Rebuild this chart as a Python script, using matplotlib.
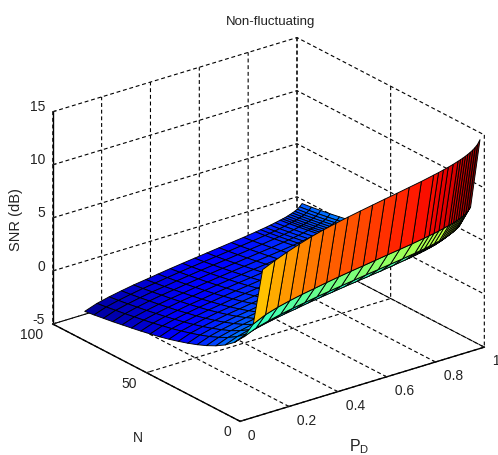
import matplotlib
matplotlib.use('Agg')
import numpy as np
import matplotlib.pyplot as plt
from matplotlib import colormaps
from matplotlib.colors import Normalize

plt.rcParams['font.family'] = ['Liberation Sans', 'DejaVu Sans']
plt.rcParams['mathtext.fontset'] = 'custom'
plt.rcParams['mathtext.rm'] = 'Liberation Sans'
plt.rcParams['mathtext.it'] = 'Liberation Sans'
plt.rcParams['grid.color'] = 'k'
plt.rcParams['grid.linestyle'] = (0, (3.5, 2.5))
plt.rcParams['grid.linewidth'] = 0.8

pd_values = [.10,.15,.20,.25,.30,.35,.40,.45,.50,.55,.60,.65,.70,.75,.80,.82,.84,.86,.88,.90,.91,.92,.93,.94,.95,.96,.97,.98,.99]
n_values = [1,6,11,16,21,26,31,36,41,46,51,56,61,66,71,76,81,86,91,96]
snr_values = [
[8.50,9.00,9.45,9.85,10.21,10.51,10.77,11.01,11.23,11.44,11.65,11.85,12.06,12.27,12.51,12.61,12.72,12.84,12.97,13.12,13.20,13.28,13.38,13.49,13.61,13.75,13.93,14.16,14.53],
[2.92,3.45,3.80,4.08,4.32,4.52,4.73,4.92,5.10,5.26,5.43,5.60,5.76,5.93,6.12,6.21,6.28,6.38,6.49,6.61,6.68,6.73,6.81,6.90,7.00,7.11,7.25,7.44,7.74],
[1.25,1.74,2.05,2.32,2.55,2.74,2.94,3.11,3.28,3.44,3.60,3.75,3.91,4.07,4.24,4.32,4.40,4.49,4.59,4.70,4.76,4.82,4.90,4.98,5.08,5.18,5.32,5.48,5.77],
[.27,.73,1.04,1.28,1.50,1.68,1.88,2.05,2.21,2.37,2.52,2.67,2.82,2.98,3.16,3.23,3.31,3.40,3.49,3.60,3.66,3.72,3.80,3.88,3.96,4.07,4.19,4.36,4.63],
[-.43,.01,.31,.56,.78,.95,1.14,1.31,1.47,1.62,1.77,1.92,2.07,2.22,2.39,2.46,2.54,2.63,2.72,2.83,2.89,2.95,3.02,3.10,3.18,3.29,3.41,3.58,3.84],
[-.97,-.53,-.24,0,.21,.39,.57,.74,.90,1.05,1.20,1.34,1.49,1.64,1.81,1.88,1.96,2.04,2.13,2.24,2.30,2.35,2.42,2.50,2.59,2.68,2.80,2.97,3.23],
[-1.41,-.98,-.70,-.46,-.25,-.07,.11,.28,.43,.58,.73,.87,1.01,1.16,1.33,1.40,1.48,1.56,1.65,1.76,1.81,1.87,1.94,2.02,2.10,2.20,2.33,2.49,2.75],
[-1.78,-1.36,-1.07,-.84,-.63,-.46,-.28,-.11,.04,.19,.34,.48,.62,.77,.93,1.00,1.08,1.16,1.25,1.36,1.42,1.47,1.54,1.62,1.70,1.80,1.92,2.08,2.34],
[-2.10,-1.68,-1.40,-1.17,-.96,-.79,-.61,-.44,-.29,-.15,0,.14,.28,.43,.59,.66,.74,.82,.91,1.01,1.07,1.13,1.19,1.27,1.35,1.45,1.57,1.73,1.99],
[-2.38,-1.96,-1.69,-1.46,-1.25,-1.08,-.90,-.74,-.59,-.44,-.30,-.16,-.02,.13,.29,.36,.44,.52,.61,.71,.77,.82,.89,.97,1.05,1.14,1.27,1.43,1.68],
[-2.64,-2.22,-1.95,-1.72,-1.51,-1.35,-1.17,-1.01,-.86,-.71,-.57,-.43,-.29,-.14,.02,.09,.17,.25,.34,.44,.50,.55,.62,.70,.78,.87,1.00,1.15,1.41],
[-2.87,-2.45,-2.18,-1.95,-1.75,-1.58,-1.40,-1.24,-1.09,-.95,-.81,-.67,-.53,-.38,-.22,-.15,-.08,.01,.09,.20,.25,.31,.37,.45,.53,.62,.75,.90,1.16],
[-3.06,-2.65,-2.38,-2.15,-1.95,-1.79,-1.61,-1.45,-1.30,-1.16,-1.01,-.88,-.73,-.59,-.43,-.36,-.29,-.21,-.12,-.02,.04,.09,.16,.24,.32,.41,.53,.69,.94],
[-3.25,-2.85,-2.58,-2.35,-2.15,-1.99,-1.81,-1.65,-1.50,-1.36,-1.22,-1.08,-.94,-.80,-.63,-.56,-.49,-.41,-.32,-.22,-.17,-.11,-.04,.03,.11,.21,.33,.48,.73],
[-3.42,-3.02,-2.75,-2.52,-2.32,-2.16,-1.98,-1.82,-1.67,-1.53,-1.39,-1.25,-1.11,-.97,-.81,-.74,-.67,-.59,-.50,-.40,-.34,-.29,-.22,-.15,-.07,.03,.15,.30,.55],
[-3.58,-3.18,-2.92,-2.69,-2.49,-2.33,-2.15,-1.99,-1.84,-1.70,-1.56,-1.42,-1.28,-1.14,-.98,-.91,-.84,-.76,-.67,-.57,-.51,-.46,-.39,-.32,-.24,-.14,-.02,.13,.38],
[-3.74,-3.34,-3.07,-2.84,-2.64,-2.48,-2.31,-2.15,-2.00,-1.86,-1.72,-1.58,-1.44,-1.30,-1.14,-1.07,-1.00,-.92,-.83,-.73,-.68,-.63,-.56,-.48,-.40,-.31,-.19,-.03,.21],
[-3.88,-3.48,-3.22,-2.99,-2.79,-2.63,-2.46,-2.30,-2.15,-2.01,-1.87,-1.73,-1.59,-1.45,-1.29,-1.22,-1.15,-1.07,-.98,-.88,-.83,-.78,-.71,-.63,-.55,-.46,-.34,-.18,.06],
[-4.02,-3.62,-3.35,-3.13,-2.93,-2.77,-2.60,-2.44,-2.29,-2.15,-2.01,-1.87,-1.73,-1.59,-1.43,-1.36,-1.29,-1.21,-1.12,-1.02,-.97,-.92,-.85,-.77,-.69,-.60,-.48,-.32,-.08],
[-4.14,-3.74,-3.47,-3.25,-3.05,-2.89,-2.72,-2.56,-2.41,-2.27,-2.13,-1.99,-1.85,-1.71,-1.55,-1.48,-1.41,-1.33,-1.24,-1.14,-1.09,-1.04,-.97,-.89,-.81,-.72,-.60,-.44,-.20],
]
pd_ticks = [0, .2, .4, .6, .8, 1]
pd_ticklabels = ['0', '0.2', '0.4', '0.6', '0.8', '1']
n_ticks = [0, 50, 100]
snr_ticks = [-5, 0, 5, 10, 15]

W, H = 498, 455
S = 455
fig = plt.figure(figsize=(W/100, H/100), dpi=100, facecolor='white')
ax = fig.add_axes([34.9/W, (H-463.1)/H, S/W, S/H], projection='3d', proj_type='ortho')
ax.patch.set_alpha(0)
ax.view_init(elev=23.4, azim=-127.4)
ax.set_box_aspect((307, 308, 231), zoom=1.052)
ax.set_xlim(0, 1, view_margin=0)
ax.set_ylim(0, 100, view_margin=0)
ax.set_zlim(-5, 15, view_margin=0)

P, N = np.meshgrid(pd_values, n_values)
Z = np.array(snr_values)
norm = Normalize(Z.min(), Z.max())
# each quad takes the colour of its higher-PD corner, as in the reference
face_z = np.column_stack([Z[:, 1:], Z[:, -1]])
surf = ax.plot_surface(P, N, Z, rstride=1, cstride=1, facecolors=colormaps['jet'](norm(face_z)),
                       shade=False, edgecolor='k', linewidth=0.65, antialiased=True)
surf.set_clip_on(False)

ax.set_xticks(pd_ticks, [' ' + s for s in pd_ticklabels])
ax.set_yticks(n_ticks, [str(v) for v in n_ticks])
ax.set_zticks(snr_ticks, [str(v) for v in snr_ticks])
for a in (ax.xaxis, ax.yaxis, ax.zaxis):
    a.set_pane_color((1, 1, 1, 0))
    a.pane.set_edgecolor('none')
    a.line.set_color('k')
    a.line.set_linewidth(1.0)
    a._axinfo['tick']['inward_factor'] = 0.0
    a._axinfo['tick']['outward_factor'] = 0.15
    a._axinfo['tick']['linewidth'] = {True: 0.8, False: 0.5}

ax.tick_params(axis='both', labelsize=10, colors='#222222')
ax.tick_params(axis='x', pad=-4)
ax.tick_params(axis='y', pad=-1.5)
ax.tick_params(axis='z', pad=-4.9)
for t in ax.xaxis.get_major_ticks():
    t.label1.set_ha('left'); t.label1.set_va('top')
for t in ax.yaxis.get_major_ticks():
    t.label1.set_ha('right'); t.label1.set_va('center')
for t in ax.zaxis.get_major_ticks():
    t.label1.set_ha('right'); t.label1.set_va('baseline')

fig.text(349/W, 1-451/H, r'$\mathrm{P_D}$', ha='left', va='baseline', fontsize=11.5, color='#222222')
fig.text(138/W, 1-438/H, 'N', ha='center', va='center', fontsize=10, color='#222222')
fig.text(16/W, 1-220/H, 'SNR (dB)', rotation=90, ha='center', va='center', fontsize=10.5, color='#222222')
fig.text(270.5/W, 1-22/H, 'Non-fluctuating', ha='center', va='center', fontsize=9.5, color='#222222')
fig.savefig('out.png', dpi=100)
